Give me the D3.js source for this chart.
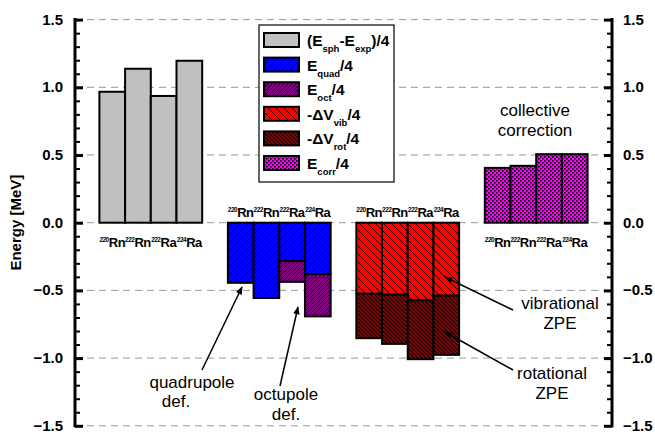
<!DOCTYPE html>
<html>
<head>
<meta charset="utf-8">
<script src="https://cdn.jsdelivr.net/npm/d3@7"></script>
<style>
  body { margin: 0; background: #fff; }
  text { font-family: "Liberation Sans", Arial, sans-serif; }
</style>
</head>
<body>
<div id="chart"></div>
<script>
// isotopes, same order in every group
var masses = ["220", "222", "222", "224"];
var elements = ["Rn", "Rn", "Ra", "Ra"];

// energies in MeV (already divided by 4)
var eSphExp = [0.967, 1.137, 0.936, 1.196];
var eQuad = [-0.444, -0.556, -0.283, -0.379];
var eOct = [0, 0, -0.154, -0.313];
var dVvib = [-0.525, -0.532, -0.574, -0.539];
var dVrot = [-0.328, -0.363, -0.434, -0.437];
var eCorr = [0.405, 0.42, 0.506, 0.506];

var yTicks = [-1.5, -1.0, -0.5, 0.0, 0.5, 1.0, 1.5];

var width = 655, height = 434;

var svg = d3.select("#chart").append("svg")
	.attr("width", width)
	.attr("height", height);

var x = d3.scaleLinear().domain([-0.45, 20.45]).range([75, 612]);
var y = d3.scaleLinear().domain([-1.5, 1.5]).range([425.8, 19.6]);

// fill patterns
var defs = svg.append("defs");

function hatch(id, bg, step, dir) {
	var p = defs.append("pattern")
		.attr("id", id)
		.attr("patternUnits", "userSpaceOnUse")
		.attr("width", step).attr("height", step);
	p.append("rect").attr("width", step).attr("height", step).attr("fill", bg);
	var s = step;
	var d = dir > 0
		? "M0," + s + "L" + s + ",0M" + (-s / 2) + "," + (s / 2) + "L" + (s / 2) + "," + (-s / 2) + "M" + (s / 2) + "," + (s * 1.5) + "L" + (s * 1.5) + "," + (s / 2)
		: "M0,0L" + s + "," + s + "M" + (-s / 2) + "," + (s / 2) + "L" + (s / 2) + "," + (s * 1.5) + "M" + (s / 2) + "," + (-s / 2) + "L" + (s * 1.5) + "," + (s / 2);
	p.append("path").attr("d", d).attr("stroke", "#000").attr("stroke-width", 0.8);
}
hatch("pQuad", "#0000ff", 8, 1);
hatch("pOct", "#800080", 4, 1);
hatch("pVib", "#ff0000", 8, -1);
hatch("pRot", "#800000", 4, -1);

var pc = defs.append("pattern")
	.attr("id", "pCorr")
	.attr("patternUnits", "userSpaceOnUse")
	.attr("width", 4).attr("height", 4);
pc.append("rect").attr("width", 4).attr("height", 4).attr("fill", "#ff00ff");
pc.append("rect").attr("width", 1.6).attr("height", 1.6).attr("fill", "#000");
pc.append("rect").attr("x", 2).attr("y", 2).attr("width", 1.6).attr("height", 1.6).attr("fill", "#000");

// dashed grid
svg.append("g").selectAll("line")
	.data(yTicks)
	.enter().append("line")
	.attr("x1", x.range()[0]).attr("x2", x.range()[1])
	.attr("y1", function(d) { return y(d); })
	.attr("y2", function(d) { return y(d); })
	.attr("stroke", "#999")
	.attr("stroke-width", 1)
	.attr("stroke-dasharray", "7,5");

// bars: build segments from the arrays
function segs(group, vals, base, fill) {
	return vals.map(function(v, i) {
		var b = base ? base[i] : 0;
		return { group: group, i: i, y0: b, y1: b + v, fill: fill };
	});
}
var bars = []
	.concat(segs(0, eSphExp, null, "#c0c0c0"))
	.concat(segs(1, eQuad, null, "url(#pQuad)"))
	.concat(segs(1, eOct, eQuad, "url(#pOct)"))
	.concat(segs(2, dVvib, null, "url(#pVib)"))
	.concat(segs(2, dVrot, dVvib, "url(#pRot)"))
	.concat(segs(3, eCorr, null, "url(#pCorr)"))
	.filter(function(d) { return d.y0 !== d.y1; });

function slot(d) { return d.group * 5 + d.i + 1; }

svg.append("g").selectAll("rect")
	.data(bars)
	.enter().append("rect")
	.attr("x", function(d) { return x(slot(d) - 0.5); })
	.attr("width", function(d) { return x(slot(d) + 0.5) - x(slot(d) - 0.5); })
	.attr("y", function(d) { return y(Math.max(d.y0, d.y1)); })
	.attr("height", function(d) { return Math.abs(y(d.y0) - y(d.y1)); })
	.attr("fill", function(d) { return d.fill; })
	.attr("stroke", "#000")
	.attr("stroke-width", 2);

// isotope labels
var labelGroups = [{ g: 0, yy: 247 }, { g: 1, yy: 217 }, { g: 2, yy: 217 }, { g: 3, yy: 247 }];
labelGroups.forEach(function(lg) {
	masses.forEach(function(m, i) {
		var t = svg.append("text")
			.attr("x", x(lg.g * 5 + i + 1))
			.attr("y", lg.yy)
			.attr("text-anchor", "middle")
			.attr("font-weight", "bold")
			.attr("letter-spacing", -0.5);
		t.append("tspan").attr("font-size", 6.5).attr("dy", -5).text(m);
		t.append("tspan").attr("font-size", 13).attr("dy", 5).text(elements[i]);
	});
});

// axes
var yAxisL = d3.axisRight(y).tickValues(yTicks).tickSize(8).tickFormat("");
var yAxisR = d3.axisLeft(y).tickValues(yTicks).tickSize(8).tickFormat("");
var minor = d3.range(-15, 16).map(function(k) { return k / 10; })
	.filter(function(v) { return Math.abs(v * 2 - Math.round(v * 2)) > 1e-6; });
var yMinorL = d3.axisRight(y).tickValues(minor).tickSize(5).tickFormat("");
var yMinorR = d3.axisLeft(y).tickValues(minor).tickSize(5).tickFormat("");

function styleAxis(g, w) {
	g.select(".domain").remove();
	g.selectAll(".tick line").attr("stroke", "#000").attr("stroke-width", w);
}
svg.append("g").attr("transform", "translate(75,0)").call(yAxisL).call(styleAxis, 3);
svg.append("g").attr("transform", "translate(75,0)").call(yMinorL).call(styleAxis, 2);
svg.append("g").attr("transform", "translate(612,0)").call(yAxisR).call(styleAxis, 3);
svg.append("g").attr("transform", "translate(612,0)").call(yMinorR).call(styleAxis, 2);

[75, 612].forEach(function(ax) {
	svg.append("line")
		.attr("x1", ax).attr("x2", ax)
		.attr("y1", y(1.5) - 1.5).attr("y2", y(-1.5) + 1.5)
		.attr("stroke", "#000").attr("stroke-width", 3);
});

var fmt = d3.format(".1f");
svg.append("g").selectAll("text")
	.data(yTicks).enter().append("text")
	.attr("x", 63).attr("y", function(d) { return y(d) + 5; })
	.attr("text-anchor", "end")
	.attr("font-size", 15).attr("font-weight", "bold")
	.text(function(d) { return fmt(d); });
svg.append("g").selectAll("text")
	.data(yTicks).enter().append("text")
	.attr("x", 623).attr("y", function(d) { return y(d) + 5; })
	.attr("text-anchor", "start")
	.attr("font-size", 15).attr("font-weight", "bold")
	.text(function(d) { return fmt(d); });

svg.append("text")
	.attr("transform", "translate(21," + y(0) + ") rotate(-90)")
	.attr("text-anchor", "middle")
	.attr("font-size", 15).attr("font-weight", "bold")
	.text("Energy [MeV]");

// legend
var legendFills = ["#c0c0c0", "url(#pQuad)", "url(#pOct)", "url(#pVib)", "url(#pRot)", "url(#pCorr)"];
var legendLabels = [
	[["(E", 0], ["sph", 1], ["-E", 0], ["exp", 1], [")/4", 0]],
	[["E", 0], ["quad", 1], ["/4", 0]],
	[["E", 0], ["oct", 1], ["/4", 0]],
	[["-\u0394V", 0], ["vib", 1], ["/4", 0]],
	[["-\u0394V", 0], ["rot", 1], ["/4", 0]],
	[["E", 0], ["corr", 1], ["/4", 0]]
];
var lg = svg.append("g");
lg.append("rect")
	.attr("x", 259).attr("y", 25).attr("width", 135).attr("height", 157)
	.attr("fill", "#fff").attr("stroke", "#000").attr("stroke-width", 1.2);
legendLabels.forEach(function(parts, k) {
	var cy = 40 + k * 24.6;
	lg.append("rect")
		.attr("x", 264).attr("y", cy - 7).attr("width", 35).attr("height", 14)
		.attr("fill", legendFills[k]).attr("stroke", "#000").attr("stroke-width", 2);
	var t = lg.append("text").attr("x", 307).attr("y", cy + 6)
		.attr("font-size", 15.5).attr("font-weight", "bold");
	var prevSub = 0;
	parts.forEach(function(p) {
		var ts = t.append("tspan").text(p[0]);
		if (p[1]) ts.attr("font-size", 9.5).attr("dy", prevSub ? 0 : 6);
		else ts.attr("dy", prevSub ? -6 : 0);
		prevSub = p[1];
	});
});

// annotations
var notes = [
	{ x: 535, y: 116, lines: ["collective", "correction"] },
	{ x: 192, y: 388, lines: ["quadrupole"] },
	{ x: 176, y: 407, lines: ["def."] },
	{ x: 286, y: 400, lines: ["octupole", "def."] },
	{ x: 560, y: 309, lines: ["vibrational", "ZPE"] },
	{ x: 552, y: 379, lines: ["rotational", "ZPE"] }
];
notes.forEach(function(n) {
	n.lines.forEach(function(l, j) {
		svg.append("text")
			.attr("x", n.x).attr("y", n.y + j * 20)
			.attr("text-anchor", "middle")
			.attr("font-size", 17)
			.text(l);
	});
});

defs.append("marker")
	.attr("id", "arrow")
	.attr("viewBox", "0 0 10 10")
	.attr("refX", 9).attr("refY", 5)
	.attr("markerWidth", 9).attr("markerHeight", 8)
	.attr("markerUnits", "userSpaceOnUse")
	.attr("orient", "auto")
	.append("path").attr("d", "M0,1L10,5L0,9z").attr("fill", "#000");

var arrows = [
	[202, 370, 242, 287],
	[280, 386, 298, 307],
	[513, 310, 445, 277],
	[513, 370, 445, 332]
];
svg.append("g").selectAll("line")
	.data(arrows).enter().append("line")
	.attr("x1", function(d) { return d[0]; })
	.attr("y1", function(d) { return d[1]; })
	.attr("x2", function(d) { return d[2]; })
	.attr("y2", function(d) { return d[3]; })
	.attr("stroke", "#000").attr("stroke-width", 1.5)
	.attr("marker-end", "url(#arrow)");
</script>
</body>
</html>
